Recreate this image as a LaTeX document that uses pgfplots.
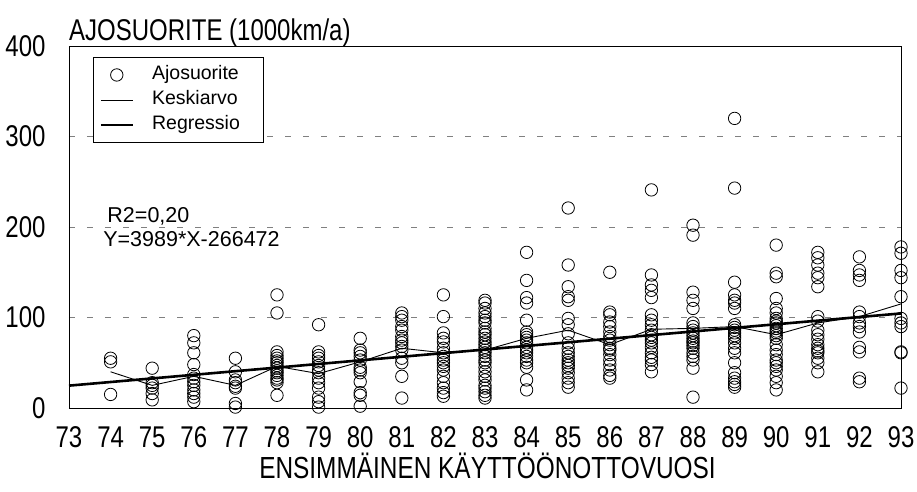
\documentclass[border=0pt]{standalone}
\usepackage{fontspec}
\setmainfont{Liberation Sans}
\newfontfamily\narrowfont[FakeStretch=0.8]{Liberation Sans}
\usepackage{pgfplots}
\usepackage{pgfplotstable}
\pgfplotsset{compat=1.18}

% Legend symbols: a single circle, or a short line segment
\pgfplotsset{
  circle legend/.style={legend image code/.code={\draw[##1] plot coordinates {(16pt,0pt)};}},
  segment legend/.style={legend image code/.code={\draw[##1] (0pt,0pt) -- (32pt,0pt);}},
}

% Individual vehicles: first year of use and yearly mileage (1000 km/a)
\pgfplotstableread{
year km
74 55
74 51
74 15
75 44
75 28
75 25
75 22
75 16
75 9
76 80
76 72
76 61
76 48
76 37
76 33
76 29
76 25
76 20
76 16
76 12
76 7
77 55
77 40
77 31
77 28
77 24
77 22
77 5
77 1
78 125
78 105
78 62
78 58
78 55
78 52
78 50
78 47
78 44
78 41
78 39
78 36
78 33
78 31
78 28
78 14
79 92
79 62
79 58
79 55
79 51
79 47
79 42
79 39
79 33
79 28
79 22
79 12
79 7
79 1
80 77
80 64
80 61
80 57
80 53
80 45
80 42
80 39
80 29
80 17
80 14
80 2
81 105
81 101
81 97
81 90
81 86
81 79
81 75
81 72
81 68
81 64
81 55
81 50
81 35
81 11
82 125
82 101
82 83
82 77
82 73
82 66
82 61
82 57
82 53
82 50
82 46
82 42
82 35
82 28
82 22
82 17
82 13
83 119
83 116
83 110
83 105
83 101
83 97
83 94
83 88
83 84
83 81
83 77
83 73
83 70
83 67
83 64
83 61
83 57
83 53
83 50
83 45
83 40
83 35
83 31
83 25
83 22
83 18
83 14
83 11
84 172
84 141
84 122
84 116
84 97
84 84
84 81
84 78
84 75
84 72
84 67
84 64
84 61
84 57
84 53
84 50
84 45
84 31
84 20
85 221
85 158
85 134
85 123
85 119
85 99
85 92
85 82
85 72
85 66
85 61
85 57
85 53
85 50
85 47
85 44
85 39
85 33
85 28
85 23
86 150
86 106
86 103
86 95
86 90
86 84
86 79
86 75
86 70
86 66
86 64
86 59
86 53
86 48
86 42
86 36
86 33
87 241
87 147
87 136
87 130
87 122
87 103
87 97
87 92
87 86
87 81
87 78
87 75
87 72
87 67
87 61
87 56
87 53
87 48
87 40
88 202
88 191
88 128
88 119
88 110
88 94
88 90
88 86
88 83
88 80
88 77
88 74
88 72
88 69
88 66
88 61
88 57
88 53
88 44
88 12
89 320
89 243
89 139
89 125
89 119
89 116
89 110
89 92
89 89
89 86
89 83
89 80
89 77
89 72
89 66
89 61
89 50
89 39
89 33
89 29
89 26
89 23
90 180
90 149
90 145
90 121
90 110
90 105
90 99
90 96
90 94
90 91
90 88
90 85
90 83
90 80
90 77
90 70
90 64
90 59
90 53
90 50
90 46
90 42
90 35
90 28
90 20
91 172
91 166
91 158
91 149
91 144
91 134
91 101
91 96
91 86
91 81
91 76
91 70
91 66
91 63
91 61
91 55
91 50
91 40
92 167
92 152
92 147
92 141
92 106
92 101
92 94
92 90
92 84
92 67
92 62
92 33
92 29
93 178
93 171
93 152
93 144
93 123
93 99
93 94
93 90
93 62
93 61
93 22
}\ajodata

% Mean mileage for each year
\pgfplotstableread{
year km
74 40
75 25
76 35
77 25
78 46
79 38
80 51
81 66
82 61
83 64
84 77
85 86
86 70
87 87
88 88
89 90
90 81
91 94
92 101
93 115
}\meandata

% Linear fit Y = 3989*X - 266472 (km/a), in 1000 km/a
\pgfplotstableread{
year km
73 24.725
93 104.505
}\regdata

\begin{document}
\begin{tikzpicture}
\useasboundingbox (-69pt,-83pt) rectangle (848pt,408pt);
\begin{axis}[
  scale only axis,
  width=832pt, height=362pt,
  xmin=73, xmax=93, ymin=0, ymax=400,
  xtick={73,74,...,93},
  ytick={0,100,200,300,400},
  major tick length=0pt,
  clip=false,
  axis line style={line width=0.9pt},
  ymajorgrids,
  grid style={gray, line width=0.9pt, dash pattern=on 6pt off 12pt},
  /pgf/number format/assume math mode=true,
  tick label style={font=\narrowfont\fontsize{30}{30}\selectfont},
  xticklabel style={anchor=base, yshift=-39pt},
  yticklabel style={anchor=east, xshift=-20pt},
  legend cell align=left,
  legend style={
    at={(0.0289,0.9696)}, anchor=north west,
    draw=black, line width=0.9pt, fill=white,
    font=\fontsize{19.5}{19.5}\selectfont,
    inner xsep=6pt, inner ysep=5pt,
    nodes={inner ysep=3.25pt, text height=14pt, text depth=4.5pt},
    /tikz/every odd column/.append style={column sep=16pt},
    /tikz/every even column/.append style={text width=103pt},
  },
]
\addplot[only marks, mark=o, mark size=6.2pt, mark options={line width=0.8pt, draw=black}, circle legend]
  table[x=year, y=km] {\ajodata};
\addlegendentry{Ajosuorite}
\addplot[black, line width=0.9pt, no markers, segment legend]
  table[x=year, y=km] {\meandata};
\addlegendentry{Keskiarvo}
\addplot[black, line width=2.6pt, no markers, segment legend]
  table[x=year, y=km] {\regdata};
\addlegendentry{Regressio}

\node[anchor=base west, font=\narrowfont\fontsize{30}{30}\selectfont, inner sep=0pt]
  at (rel axis cs:0,1) [yshift=6pt] {AJOSUORITE (1000km/a)};
\node[anchor=base, font=\narrowfont\fontsize{30.5}{30.5}\selectfont, inner sep=0pt]
  at (rel axis cs:0.5,0) [xshift=2.5pt, yshift=-70pt] {ENSIMMÄINEN KÄYTTÖÖNOTTOVUOSI};
\node[anchor=base west, font=\fontsize{21.5}{21.5}\selectfont, inner sep=0pt]
  at (axis cs:73.92,205.5) {R2=0,20};
\node[anchor=base west, font=\fontsize{21.5}{21.5}\selectfont, inner sep=0pt]
  at (axis cs:73.82,179) {Y=3989*X-266472};
\end{axis}
\end{tikzpicture}
\end{document}
